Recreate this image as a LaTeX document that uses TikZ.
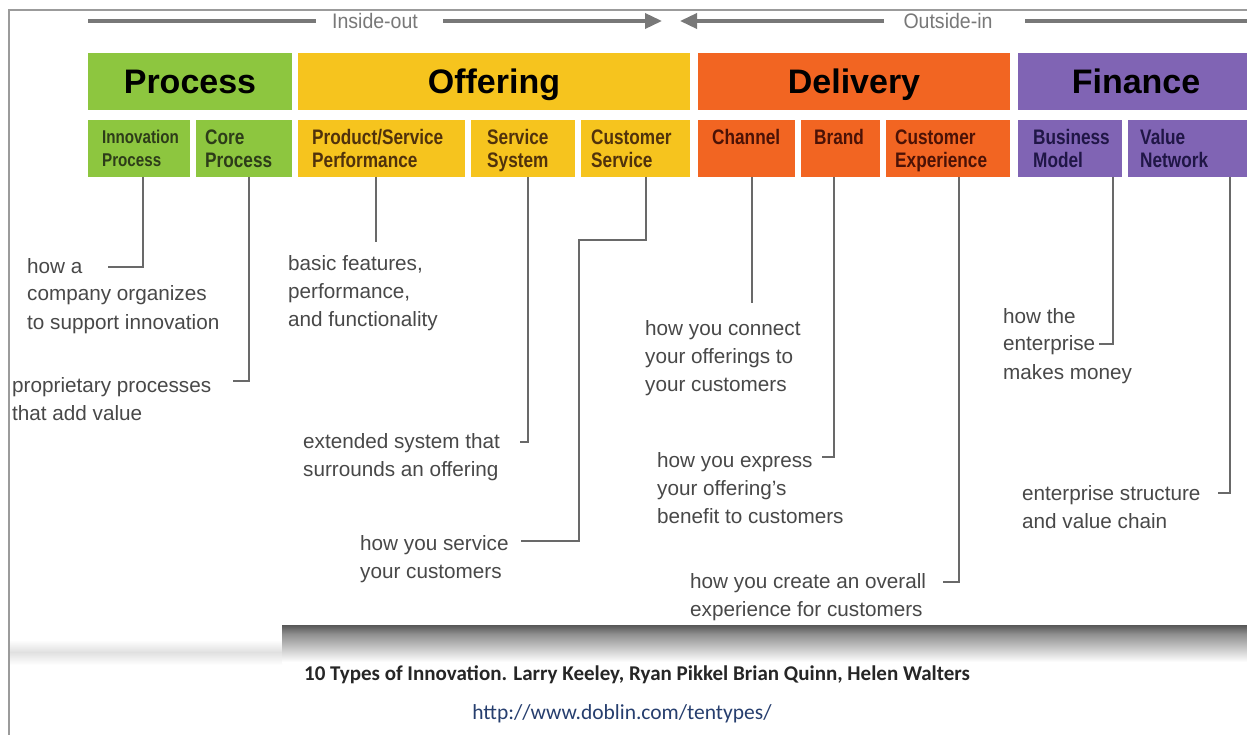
\documentclass[tikz,border=0pt]{standalone}
\usepackage{fontspec}
\setmainfont{Liberation Sans}
\newfontfamily\credfont{Carlito}
\usetikzlibrary{arrows.meta}
\definecolor{cProc}{RGB}{141,198,63}
\definecolor{cOff}{RGB}{246,196,30}
\definecolor{cDel}{RGB}{242,101,34}
\definecolor{cFin}{RGB}{128,100,180}
\definecolor{tProc}{RGB}{45,60,25}
\definecolor{tOff}{RGB}{80,50,12}
\definecolor{tDel}{RGB}{75,18,6}
\definecolor{tFin}{RGB}{32,22,70}
\definecolor{descc}{RGB}{72,72,72}
\definecolor{connc}{RGB}{105,105,105}
\definecolor{topc}{RGB}{120,120,120}
\definecolor{framec}{RGB}{155,155,155}
\definecolor{urlc}{RGB}{38,62,110}
\newcommand\mylines[1]{\begin{tabular}[t]{@{}l@{}}#1\end{tabular}}
\newcommand\subtext[1]{\scalebox{0.82}[1]{\mylines{#1}}}
\newcommand\toptext[1]{\scalebox{0.93}[1]{#1}}
\begin{document}
\begin{tikzpicture}[x=1pt,y=-1pt,
  hdr/.style={anchor=north west, minimum height=57pt, inner sep=0pt, outer sep=0pt,
    text height=24.5pt, text depth=0pt, font=\fontsize{34}{34}\selectfont\bfseries, text=black},
  subbox/.style={anchor=north west, minimum height=57pt, inner sep=0pt, outer sep=0pt},
  subtxt/.style={anchor=base west, inner sep=0pt, font=\fontsize{21}{23}\selectfont\bfseries},
  descr/.style={anchor=base west, inner sep=0pt, text=descc, font=\fontsize{20.7}{28}\selectfont},
  conn/.style={draw=connc, line width=2pt},
  toparrow/.style={draw=topc, line width=3.5pt},
  tiptri/.style={-{Triangle[length=17pt,width=15pt]}},
  toplabel/.style={text=topc, inner sep=0pt, font=\fontsize{21}{21}\selectfont},
]
\useasboundingbox (0,0) rectangle (1247,735);
\fill[white] (0,0) rectangle (1247,735);
% frame
\draw[framec, line width=2pt] (9,735) -- (9,10) -- (1247,10);
% top arrows
\node[toplabel] (io) at (375,21) {\toptext{Inside-out}};
\node[toplabel] (oi) at (948,21) {\toptext{Outside-in}};
\coordinate (ioL) at (88,21);
\coordinate (ioA) at (316,21);
\coordinate (ioB) at (443,21);
\coordinate (ioR) at (662,21);
\coordinate (oiL) at (680,21);
\coordinate (oiA) at (884,21);
\coordinate (oiB) at (1025,21);
\coordinate (oiR) at (1247,21);
\draw[toparrow] (ioL) -- (ioA);
\draw[toparrow, tiptri] (ioB) -- (ioR);
\draw[toparrow, tiptri] (oiA) -- (oiL);
\draw[toparrow] (oiB) -- (oiR);
% headers
\node[hdr, fill=cProc, minimum width=204pt] (hP) at (88,53) {Process};
\node[hdr, fill=cOff, minimum width=392pt] (hO) at (298,53) {Offering};
\node[hdr, fill=cDel, minimum width=312pt] (hD) at (698,53) {Delivery};
\node[hdr, fill=cFin, minimum width=236pt] (hF) at (1018,53) {Finance};
% sub boxes
\node[subbox, fill=cProc, minimum width=102pt] (bIP) at (88,120) {};
\node[subbox, fill=cProc, minimum width=96pt] (bCP) at (196,120) {};
\node[subbox, fill=cOff, minimum width=167pt] (bPSP) at (298,120) {};
\node[subbox, fill=cOff, minimum width=104pt] (bSS) at (471,120) {};
\node[subbox, fill=cOff, minimum width=109pt] (bCS) at (581,120) {};
\node[subbox, fill=cDel, minimum width=97pt] (bCh) at (698,120) {};
\node[subbox, fill=cDel, minimum width=79pt] (bBr) at (801,120) {};
\node[subbox, fill=cDel, minimum width=124pt] (bCE) at (886,120) {};
\node[subbox, fill=cFin, minimum width=104pt] (bBM) at (1018,120) {};
\node[subbox, fill=cFin, minimum width=122pt] (bVN) at (1128,120) {};
% sub texts
\node[subtxt, text=tProc, font=\fontsize{18.5}{23}\selectfont\bfseries] (tIP) at ([shift={(14,24)}]bIP.north west) {\subtext{Innovation\\Process}};
\node[subtxt, text=tProc] (tCP) at ([shift={(9,25)}]bCP.north west) {\subtext{Core\\Process}};
\node[subtxt, text=tOff] (tPSP) at ([shift={(14,25)}]bPSP.north west) {\subtext{Product/Service\\Performance}};
\node[subtxt, text=tOff] (tSS) at ([shift={(16,25)}]bSS.north west) {\subtext{Service\\System}};
\node[subtxt, text=tOff] (tCS) at ([shift={(10,25)}]bCS.north west) {\subtext{Customer\\Service}};
\node[subtxt, text=tDel] (tCh) at ([shift={(14,25)}]bCh.north west) {\subtext{Channel}};
\node[subtxt, text=tDel] (tBr) at ([shift={(13,25)}]bBr.north west) {\subtext{Brand}};
\node[subtxt, text=tDel] (tCE) at ([shift={(9,25)}]bCE.north west) {\subtext{Customer\\Experience}};
\node[subtxt, text=tFin] (tBM) at ([shift={(15,25)}]bBM.north west) {\subtext{Business\\Model}};
\node[subtxt, text=tFin] (tVN) at ([shift={(12,25)}]bVN.north west) {\subtext{Value\\Network}};
% descriptions
\node[descr] (d1) at (27,273) {\mylines{how a\\company organizes\\to support innovation}};
\node[descr] (d2) at (12,392) {\mylines{proprietary processes\\that add value}};
\node[descr] (d3) at (288,271) {\mylines{basic features,\\performance,\\and functionality}};
\node[descr] (d4) at (303,448) {\mylines{extended system that\\surrounds an offering}};
\node[descr] (d5) at (360,550) {\mylines{how you service\\your customers}};
\node[descr] (d6) at (645,335) {\mylines{how you connect\\your offerings to\\your customers}};
\node[descr] (d7) at (657,467) {\mylines{how you express\\your offering's\\benefit to customers}};
\node[descr] (d8) at (690,588) {\mylines{how you create an overall\\experience for customers}};
\node[descr] (d9) at (1003,323) {\mylines{how the\\enterprise\\makes money}};
\node[descr] (d10) at (1022,500) {\mylines{enterprise structure\\and value chain}};
% connector ends
\coordinate (e1) at (108,267);
\coordinate (e2) at (233,381);
\coordinate (e3) at (376,242);
\coordinate (e4) at (520,442);
\coordinate (e5a) at (579,240);
\coordinate (e5) at (521,541);
\coordinate (e6) at (752,303);
\coordinate (e7) at (822,457);
\coordinate (e8) at (943,582);
\coordinate (e9) at (1099,344);
\coordinate (e10) at (1218,493);
\draw[conn] ([xshift=4pt]bIP.south) |- (e1);
\draw[conn] ([xshift=5pt]bCP.south) |- (e2);
\draw[conn] (bPSP.south -| e3) -- (e3);
\draw[conn] ([xshift=5pt]bSS.south) |- (e4);
\draw[conn] ([xshift=10.5pt]bCS.south) |- (e5a) |- (e5);
\draw[conn] (bCh.south -| e6) -- (e6);
\draw[conn] ([xshift=-6.5pt]bBr.south) |- (e7);
\draw[conn] ([xshift=11pt]bCE.south) |- (e8);
\draw[conn] ([xshift=43pt]bBM.south) |- (e9);
\draw[conn] ([xshift=41pt]bVN.south) |- (e10);
% bottom band
\shade[top color=white, bottom color=black!12] (10,640) rectangle (282,652);
\shade[top color=black!12, bottom color=white] (10,652) rectangle (282,665);
\shade[top color=black!66, bottom color=black!44] (282,625) rectangle (1247,634);
\shade[top color=black!44, bottom color=white] (282,634) rectangle (1247,662);
% credits
\node[anchor=base, inner sep=0pt, text=black!85, font=\credfont\fontsize{21}{21}\selectfont\bfseries] (cr) at (637,680) {10 Types of Innovation. Larry Keeley, Ryan Pikkel Brian Quinn, Helen Walters};
\node[anchor=base, inner sep=0pt, text=urlc, font=\credfont\fontsize{21.5}{21.5}\selectfont] (url) at (622,719) {http://www.doblin.com/tentypes/};
\end{tikzpicture}
\end{document}
